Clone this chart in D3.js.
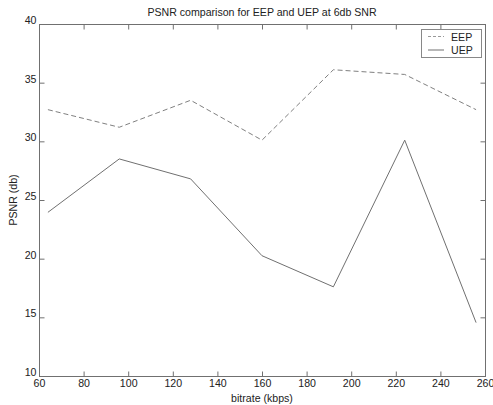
<!DOCTYPE html>
<html>
<head>
<meta charset="utf-8">
<title>PSNR comparison</title>
<script src="https://d3js.org/d3.v7.min.js"></script>
<style>
  body { margin: 0; background: #fff; }
  text { font-family: "Liberation Sans", Arial, sans-serif; fill: #222; }
</style>
</head>
<body>
<script>
// chart data
var bitrate = [64, 96, 128, 160, 192, 224, 256];
var eep = [32.7, 31.2, 33.5, 30.1, 36.1, 35.7, 32.7];
var uep = [23.95, 28.5, 26.8, 20.25, 17.6, 30.1, 14.55];
var xTicks = [60, 80, 100, 120, 140, 160, 180, 200, 220, 240, 260];
var yTicks = [10, 15, 20, 25, 30, 35, 40];

var width = 493, height = 405;
// plot box (note: "top" is reserved on window, so use other names)
var plotL = 39, plotR = 485, plotT = 24, plotB = 376;
var fontSize = "10.6px";

var svg = d3.select("body").append("svg")
  .attr("width", width)
  .attr("height", height);

var x = d3.scaleLinear().domain([60, 260]).range([plotL, plotR]);
var y = d3.scaleLinear().domain([10, 40]).range([plotB, plotT]);

var axisColor = "#707070";

// box
svg.append("rect")
  .attr("x", plotL + 0.5).attr("y", plotT + 0.5)
  .attr("width", plotR - plotL).attr("height", plotB - plotT)
  .attr("fill", "none").attr("stroke", axisColor).attr("stroke-width", 1);

// axes with inward ticks
function styleAxis(g) {
  g.select(".domain").remove();
  g.selectAll("line").attr("stroke", axisColor);
  g.selectAll("text").attr("fill", "#222").style("font-size", fontSize)
    .style("font-family", "Liberation Sans, Arial, sans-serif");
}

svg.append("g")
  .attr("transform", "translate(0," + (plotB + 0.5) + ")")
  .call(d3.axisBottom(x).tickValues(xTicks).tickSizeInner(-5).tickSizeOuter(0).tickPadding(3))
  .call(styleAxis);

svg.append("g")
  .attr("transform", "translate(0," + (plotT + 0.5) + ")")
  .call(d3.axisTop(x).tickValues(xTicks).tickSizeInner(-5).tickSizeOuter(0).tickFormat(""))
  .call(styleAxis);

svg.append("g")
  .attr("transform", "translate(" + (plotL + 0.5) + ",0)")
  .call(d3.axisLeft(y).tickValues(yTicks).tickSizeInner(-5).tickSizeOuter(0).tickPadding(3))
  .call(styleAxis)
  .selectAll("text").attr("dy", "-0.05em");

svg.append("g")
  .attr("transform", "translate(" + (plotR + 0.5) + ",0)")
  .call(d3.axisRight(y).tickValues(yTicks).tickSizeInner(-5).tickSizeOuter(0).tickFormat(""))
  .call(styleAxis);

// lines
var line = d3.line()
  .x(function (d, i) { return x(bitrate[i]); })
  .y(function (d) { return y(d); });

svg.append("path")
  .datum(eep)
  .attr("d", line)
  .attr("fill", "none")
  .attr("stroke", "#808080")
  .attr("stroke-width", 1)
  .attr("stroke-dasharray", "5,3");

svg.append("path")
  .datum(uep)
  .attr("d", line)
  .attr("fill", "none")
  .attr("stroke", "#707070")
  .attr("stroke-width", 1);

// title and labels
svg.append("text")
  .attr("x", (plotL + plotR) / 2).attr("y", 16)
  .attr("text-anchor", "middle")
  .style("font-size", fontSize)
  .text("PSNR comparison for EEP and UEP at 6db SNR");

svg.append("text")
  .attr("x", (plotL + plotR) / 2).attr("y", 402)
  .attr("text-anchor", "middle")
  .style("font-size", fontSize)
  .text("bitrate (kbps)");

svg.append("text")
  .attr("transform", "translate(17," + ((plotT + plotB) / 2) + ") rotate(-90)")
  .attr("text-anchor", "middle")
  .style("font-size", fontSize)
  .text("PSNR (db)");

// legend
var legend = svg.append("g").attr("transform", "translate(421,29)");
legend.append("rect")
  .attr("x", 0.5).attr("y", 0.5).attr("width", 60).attr("height", 28)
  .attr("fill", "#fff").attr("stroke", "#888");
var items = [
  { name: "EEP", dash: "3,2", color: "#999" },
  { name: "UEP", dash: null, color: "#707070" }
];
items.forEach(function (it, i) {
  var cy = 7.5 + i * 13.5;
  legend.append("line")
    .attr("x1", 7).attr("x2", 23).attr("y1", cy).attr("y2", cy)
    .attr("stroke", it.color)
    .attr("stroke-dasharray", it.dash);
  legend.append("text")
    .attr("x", 30).attr("y", cy + 4)
    .style("font-size", fontSize)
    .text(it.name);
});
</script>
</body>
</html>
